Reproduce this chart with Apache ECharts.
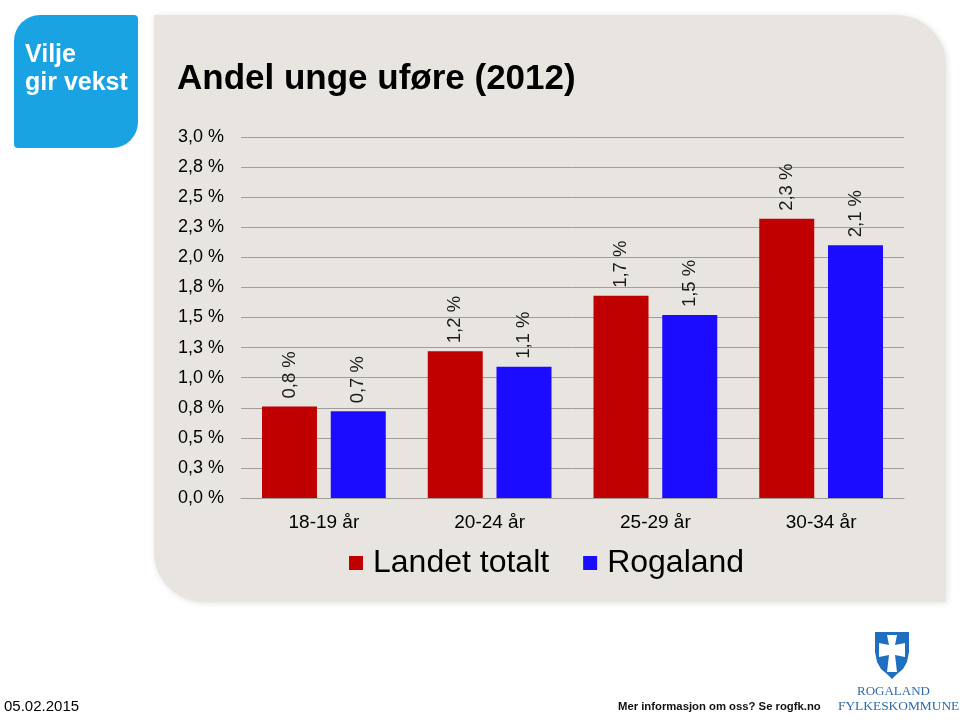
<!DOCTYPE html>
<html>
<head>
<meta charset="utf-8">
<script src="https://cdn.jsdelivr.net/npm/echarts@6/dist/echarts.min.js"></script>
<style>
html,body{margin:0;padding:0;background:#fff;}
#c{width:960px;height:724px;}
</style>
</head>
<body>
<div id="c"></div>
<script>
var categories = ['18-19 år', '20-24 år', '25-29 år', '30-34 år'];
var landetTotalt = [0.76, 1.22, 1.68, 2.32];
var rogaland = [0.72, 1.09, 1.52, 2.10];
var yTickLabels = ['0,0 %','0,3 %','0,5 %','0,8 %','1,0 %','1,3 %','1,5 %','1,8 %','2,0 %','2,3 %','2,5 %','2,8 %','3,0 %'];
var seriesNames = ['Landet totalt', 'Rogaland'];
var titleText = 'Andel unge uføre (2012)';

var FONT = 'Liberation Sans, Arial, sans-serif';
function fmt(v){ return v.toFixed(1).replace('.', ',') + ' %'; }

var chart = echarts.init(document.getElementById('c'), null, {renderer:'canvas'});
var labelCfg = {
  show: true, position: 'top', rotate: 90, align: 'left', verticalAlign: 'middle',
  distance: 8, fontFamily: FONT, fontSize: 18.5, color: '#1a1a1a',
  formatter: function(p){ return fmt(p.value); }
};
chart.setOption({
  backgroundColor: '#ffffff',
  animation: false,
  textStyle: {fontFamily: FONT},
  graphic: [
    {type:'rect', z:-10, shape:{x:154,y:15,width:792,height:587,r:[0,50,0,50]},
     style:{fill:'#e8e5e0', shadowBlur:6, shadowColor:'rgba(0,0,0,0.12)', shadowOffsetX:1, shadowOffsetY:1}},
    {type:'rect', z:-5, shape:{x:14,y:15,width:124,height:133,r:[26,4,26,4]}, style:{fill:'#1aa3e3'}},
    {type:'text', z:5, x:25, y:43, style:{text:'Vilje', fill:'#ffffff', font:'bold 25px '+FONT}},
    {type:'text', z:5, x:25, y:71, style:{text:'gir vekst', fill:'#ffffff', font:'bold 25px '+FONT}},
    {type:'text', z:5, x:177, y:62, style:{text:titleText, fill:'#000000', font:'bold 35px '+FONT}},
    {type:'text', z:5, x:4, y:699, style:{text:'05.02.2015', fill:'#000000', font:'15px '+FONT}},
    {type:'text', z:5, x:618, y:701, style:{text:'Mer informasjon om oss? Se rogfk.no', fill:'#111111', font:'bold 11.3px '+FONT}},
    {type:'text', z:5, x:857, y:685, style:{text:'ROGALAND', fill:'#2e6aa8', font:'13px Liberation Serif, serif'}},
    {type:'text', z:5, x:838, y:700, style:{text:'FYLKESKOMMUNE', fill:'#2e6aa8', font:'13.4px Liberation Serif, serif'}},
    {type:'polygon', z:5, shape:{points:[[875,632],[909,632],[909,652],[907,662],[903,669],[897,674],[892,679],[887,674],[881,669],[877,662],[875,652]]},
     style:{fill:'#1f6fc0'}},
    {type:'polygon', z:6, shape:{points:[[887,635],[897,635],[895,645],[905,643],[905,657],[895,655],[897,672],[887,672],[889,655],[879,657],[879,643],[889,645]]},
     style:{fill:'#ffffff'}}
  ],
  grid: {left:241, right:56, top:137, bottom:226, containLabel:false},
  legend: {
    data: seriesNames, left: 349, top: 547, padding: 0, itemWidth: 14, itemHeight: 14, itemGap: 34,
    icon: 'rect',
    textStyle: {fontFamily: FONT, fontSize: 32, color:'#000000', padding:[0,0,0,5]}
  },
  xAxis: {
    type: 'category', data: categories,
    axisLine: {show:true, lineStyle:{color:'#a09e9a', width:1}},
    axisTick: {show:false},
    axisLabel: {fontFamily: FONT, fontSize: 19, color:'#000000', margin: 15}
  },
  yAxis: {
    type: 'value', min: 0, max: 3, interval: 0.25,
    axisLine: {show:false}, axisTick: {show:false},
    splitLine: {lineStyle:{color:'#a09e9a', width:1}},
    axisLabel: {fontFamily: FONT, fontSize: 18, color:'#000000', margin: 17,
      formatter: function(v){ return yTickLabels[Math.round(v/0.25)]; }}
  },
  series: [
    {name: seriesNames[0], type:'bar', data: landetTotalt, barWidth: 55, barGap: '25%',
     itemStyle:{color:'#c00000'}, label: labelCfg},
    {name: seriesNames[1], type:'bar', data: rogaland, barWidth: 55,
     itemStyle:{color:'#1c0cff'}, label: labelCfg}
  ]
});
</script>
</body>
</html>
